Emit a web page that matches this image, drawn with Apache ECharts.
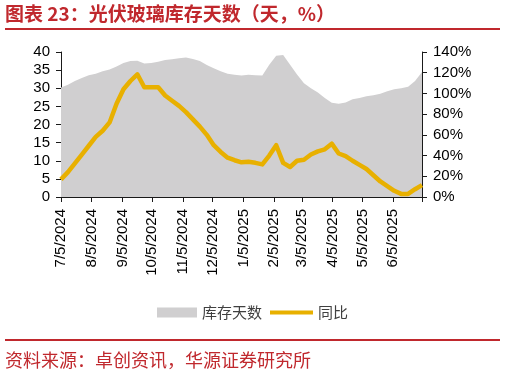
<!DOCTYPE html>
<html>
<head>
<meta charset="utf-8">
<script src="https://cdn.jsdelivr.net/npm/echarts@6/dist/echarts.min.js"></script>
<style>
html,body{margin:0;padding:0;background:#fff;}
#chart{width:506px;height:374px;}
</style>
</head>
<body>
<div id="chart"></div>
<script>
// Weekly dates
var dates = [
 '2024-07-05','2024-07-12','2024-07-19','2024-07-26','2024-08-02','2024-08-09','2024-08-16','2024-08-23','2024-08-30',
 '2024-09-06','2024-09-13','2024-09-20','2024-09-27','2024-10-04','2024-10-11','2024-10-18','2024-10-25',
 '2024-11-01','2024-11-08','2024-11-15','2024-11-22','2024-11-29','2024-12-06','2024-12-13','2024-12-20','2024-12-27',
 '2025-01-03','2025-01-10','2025-01-17','2025-01-24','2025-01-31','2025-02-07','2025-02-14','2025-02-21','2025-02-28',
 '2025-03-07','2025-03-14','2025-03-21','2025-03-28','2025-04-04','2025-04-11','2025-04-18','2025-04-25',
 '2025-05-02','2025-05-09','2025-05-16','2025-05-23','2025-05-30','2025-06-06','2025-06-13','2025-06-20','2025-06-27','2025-07-04'
];
// 库存天数 (天)
var inventoryDays = [
 30.2,31,32,32.8,33.6,34,34.7,35.2,36,
 37,37.5,37.6,36.8,37,37.3,37.8,38,
 38.3,38.5,38.1,37.5,36.4,35.5,34.7,34,33.7,
 33.5,33.7,33.6,33.5,36.5,39,39.2,36.5,33.8,
 31.4,30,28.8,27.3,26,25.7,26.1,27,
 27.3,27.8,28.1,28.5,29.2,29.7,30,30.4,32,34.5
];
// 同比 (%)
var yoy = [
 17,24,32.5,41,49.5,58,64,72,90,
 104,112,118.5,106,106,106,98,93,
 88,82,75,68,60,50,43.5,38,35.5,
 33.5,34,33,31.5,40,50,33,29,35,
 36,41,44,46,51.5,42,39.5,35,
 31,27,21,15,10.5,6,3,3,7.5,11.5
];
// Axis label dates (month ticks)
var tickDates = ['2024-07-05','2024-08-05','2024-09-05','2024-10-05','2024-11-05','2024-12-05',
 '2025-01-05','2025-02-05','2025-03-05','2025-04-05','2025-05-05','2025-06-05'];
var axisStart = '2024-07-05', axisEnd = '2025-07-04';

var DAY = 86400000;
function utc(s){ var p = s.split('-'); return Date.UTC(+p[0], +p[1]-1, +p[2]); }
var T0 = utc(axisStart);
function dayIdx(s){ return Math.round((utc(s) - T0) / DAY); }
function fmt(v){ var d = new Date(T0 + Math.round(v) * DAY); return (d.getUTCMonth()+1) + '/' + d.getUTCDate() + '/' + d.getUTCFullYear(); }

var invData = dates.map(function(d,i){ return [dayIdx(d), inventoryDays[i]]; });
var yoyData = dates.map(function(d,i){ return [dayIdx(d), yoy[i]]; });
var labelVals = tickDates.map(dayIdx);
var tickVals = labelVals.concat([dayIdx(axisEnd)]);

var RED = '#C0282D';
var AX = '#1a1a1a';
var chart = echarts.init(document.getElementById('chart'), null, {renderer:'canvas'});
chart.setOption({
  animation:false,
  backgroundColor:'#fff',
  title:{
    text:'图表 23：光伏玻璃库存天数（天，%）',
    left:5, top:4, padding:0,
    textStyle:{fontFamily:'Noto Sans CJK SC', fontSize:19, fontWeight:'bold', color:RED}
  },
  graphic:[
    {type:'line', shape:{x1:5,y1:29,x2:500,y2:29}, style:{stroke:RED, lineWidth:2}},
    {type:'line', shape:{x1:5,y1:340,x2:500,y2:340}, style:{stroke:RED, lineWidth:2}},
    {type:'text', left:5, top:351, style:{text:'资料来源：卓创资讯，华源证券研究所', font:'18px "Noto Sans CJK SC"', fill:RED}}
  ],
  legend:[
    {data:[{name:'库存天数', icon:'rect'}], left:157, top:305, padding:0, itemWidth:40, itemHeight:10, itemGap:5,
     textStyle:{fontFamily:'Noto Sans CJK SC', fontSize:15, color:'#404040'}},
    {data:[{name:'同比', icon:'rect'}], left:270, top:305, padding:0, itemWidth:43, itemHeight:4,
     textStyle:{fontFamily:'Noto Sans CJK SC', fontSize:15, color:'#404040'}}
  ],
  grid:{left:61, right:84, top:52, bottom:177, containLabel:false},
  xAxis:{
    type:'value', min:0, max:dayIdx(axisEnd),
    axisLine:{lineStyle:{color:AX, width:1}},
    axisTick:{show:true, length:5, customValues:tickVals, lineStyle:{color:AX}},
    axisLabel:{customValues:labelVals, rotate:90, margin:12, formatter:function(v){return fmt(v);},
      fontFamily:'Liberation Sans', fontSize:15, color:'#000', hideOverlap:false},
    splitLine:{show:false}
  },
  yAxis:[
    {type:'value', min:0, max:40, interval:5,
     axisLine:{show:true, lineStyle:{color:AX}},
     axisTick:{show:true, length:5, lineStyle:{color:AX}},
     axisLabel:{margin:11, fontFamily:'Liberation Sans', fontSize:15, color:'#000'},
     splitLine:{show:false}},
    {type:'value', min:0, max:140, interval:20, position:'right',
     axisLine:{show:true, lineStyle:{color:AX}},
     axisTick:{show:true, length:5, lineStyle:{color:AX}},
     axisLabel:{margin:11, fontFamily:'Liberation Sans', fontSize:15, color:'#000', formatter:'{value}%'},
     splitLine:{show:false}}
  ],
  series:[
    {name:'库存天数', type:'line', yAxisIndex:0, data:invData, showSymbol:false, symbol:'none',
     color:'#D0CFD0', lineStyle:{width:0}, areaStyle:{color:'#D0CFD0', opacity:1}, z:1},
    {name:'同比', type:'line', yAxisIndex:1, data:yoyData, showSymbol:false, symbol:'none',
     color:'#E8B000', lineStyle:{width:4.5, color:'#E8B000', join:'round'}, z:3}
  ]
});
</script>
</body>
</html>
